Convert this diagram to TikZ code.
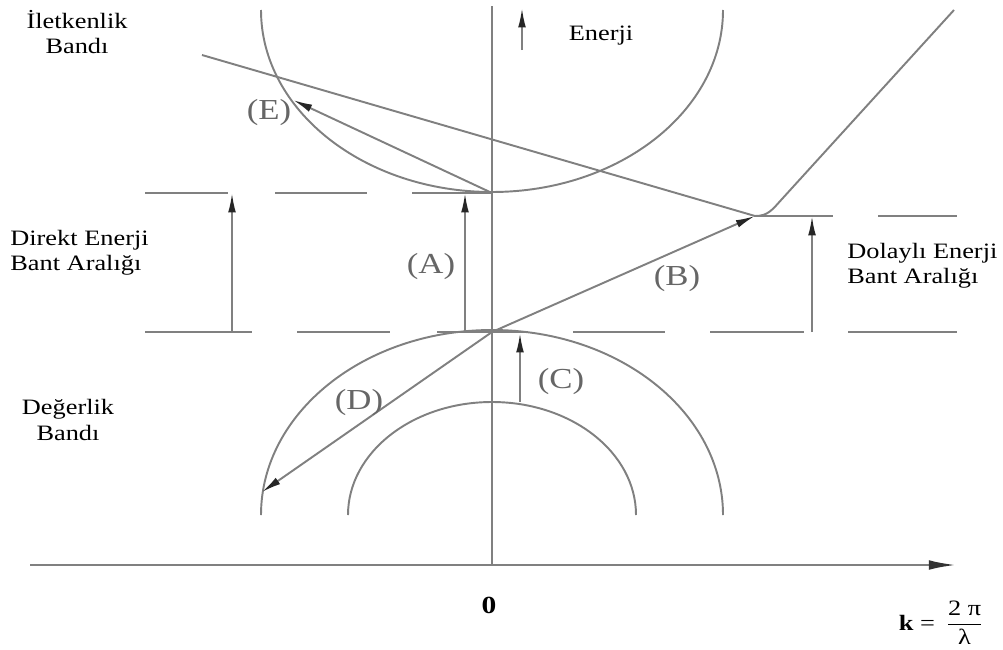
\documentclass[tikz,border=0pt]{standalone}
\usepackage{amsmath}
\usepackage{fontspec}
\setmainfont{Liberation Serif}[FakeStretch=1.2]
\usetikzlibrary{arrows.meta}

\begin{document}
\begin{tikzpicture}[
    x=0.02cm, y=-0.02cm,
    band/.style={color=black!50, line width=1.1pt},
    gapline/.style={color=black!50, line width=1.1pt},
    axis/.style={color=black!50, line width=1.6pt},
    arr/.style={color=black!50, line width=1.1pt, -{Latex[length=11pt, width=4.4pt, color=black!85]}},
    txt/.style={font=\fontsize{12.5}{14.5}\selectfont, text=black, align=left, inner sep=0pt},
    lbl/.style={font=\fontsize{16.5}{18}\selectfont, text=black!60, inner sep=0pt}
]
    \useasboundingbox (0,0) rectangle (1003,649);

    % axes
    \coordinate (xs) at (30,565);
    \coordinate (xe) at (957,565);
    \coordinate (ys) at (492,565);
    \coordinate (ye) at (492,6);
    \draw[axis, -{Latex[length=16pt, width=5.5pt, color=black!80]}] (xs) -- (xe);
    \draw[axis] (ys) -- (ye);

    % key points
    \coordinate (vmax) at (492,332);
    \coordinate (cmin) at (492,193);
    \coordinate (imin) at (755,216);

    % bands
    \draw[band] (723,10) arc[start angle=0, end angle=180, x radius=231, y radius=182];
    \draw[band] (261,515) arc[start angle=180, end angle=360, x radius=231, y radius=185];
    \draw[band] (348,515) arc[start angle=180, end angle=360, x radius=144, y radius=113];
    \draw[band] (202,55) -- (imin) .. controls (768,216) and (772,210) .. (782,199) -- (954,10);

    % dashed levels
    \foreach \a/\b in {145/228, 275/367, 412/492}
        \draw[gapline] (\a,193) -- (\b,193);
    \foreach \a/\b in {757/833, 878/957}
        \draw[gapline] (\a,216) -- (\b,216);
    \foreach \a/\b in {145/252, 297/390, 437/527, 573/665, 710/804, 848/957}
        \draw[gapline] (\a,332) -- (\b,332);

    % transitions
    \coordinate (a0) at (465,332);
    \coordinate (a1) at (465,193);
    \coordinate (dg0) at (232,332);
    \coordinate (dg1) at (232,193);
    \coordinate (ig0) at (812,332);
    \coordinate (ig1) at (812,216);
    \coordinate (c0) at (520,402);
    \coordinate (c1) at (520,333);
    \coordinate (dend) at (262,492);
    \coordinate (eend) at (293,100);
    \coordinate (en0) at (522,50);
    \coordinate (en1) at (522,8);

    \draw[arr] (a0) -- (a1);
    \draw[arr] (dg0) -- (dg1);
    \draw[arr] (ig0) -- (ig1);
    \draw[arr] (vmax) -- (imin);
    \draw[arr] (c0) -- (c1);
    \draw[arr] (vmax) -- (dend);
    \draw[arr] (cmin) -- (eend);
    \draw[arr] (en0) -- (en1);

    % labels
    \node[lbl] (la) at (431,267) {(A)};
    \node[lbl] (lb) at (677,279) {(B)};
    \node[lbl] (lc) at (561,382) {(C)};
    \node[lbl] (ld) at (359,403) {(D)};
    \node[lbl] (le) at (269,113) {(E)};

    \node[txt, align=center] (cband) at (77,32) {İletkenlik\\Bandı};
    \node[txt, anchor=west] (dgap) at (10,253) {Direkt Enerji\\Bant Aralığı};
    \node[txt, anchor=west] (igap) at (847,266) {Dolaylı Enerji\\Bant Aralığı};
    \node[txt, align=center] (vband) at (68,420) {Değerlik\\Bandı};
    \node[txt] (energy) at (601,36) {Enerji};
    \node[txt, font=\fontsize{14}{16}\selectfont\bfseries] (zero) at (489,605) {0};
    \node[txt] (kvec) at (941,623) {\textbf{k} =\enspace$\dfrac{\text{2 π}}{\text{λ}}$};
\end{tikzpicture}
\end{document}
